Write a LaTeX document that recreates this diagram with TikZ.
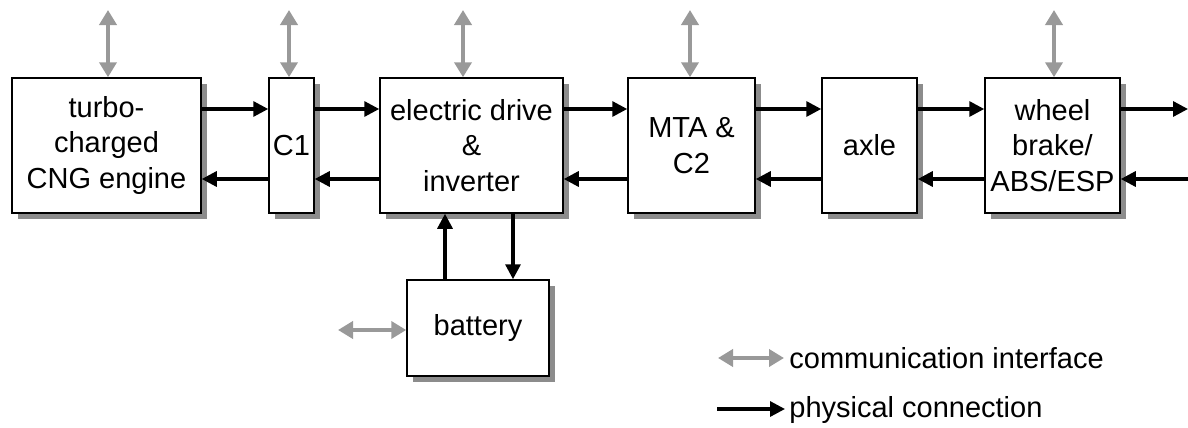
\documentclass[tikz,border=0pt]{standalone}
\usepackage{fontspec}
\setmainfont{Liberation Sans}
\usetikzlibrary{arrows.meta,shadows}
\definecolor{commgray}{HTML}{999999}
\definecolor{shadowgray}{HTML}{8C8C8C}
\begin{document}
\begin{tikzpicture}[x=0.5pt,y=-0.5pt,
  blk/.style={draw=black,line width=0.75pt,fill=white,inner sep=0pt,align=center,
    font=\fontsize{14.5}{17.8}\selectfont,
    drop shadow={shadow xshift=2.8pt,shadow yshift=-2.8pt,fill=shadowgray,opacity=1}},
  phys/.style={line width=1.6pt,-{Triangle[length=7.5pt,width=7.5pt]}},
  comm/.style={line width=2pt,draw=commgray,{Triangle[length=7.5pt,width=8.5pt,fill=commgray]}-{Triangle[length=7.5pt,width=8.5pt,fill=commgray]}},
  lab/.style={font=\fontsize{14.5}{17.5}\selectfont,anchor=west,inner sep=0pt}]
\useasboundingbox (0,0) rectangle (1188,428);

\node[blk,minimum width=94.5pt,minimum height=67.5pt] (eng) at (106.5,145.5) {turbo-\\charged\\CNG engine};
\node[blk,minimum width=22.5pt,minimum height=67.5pt] (c1) at (291.5,145.5) {C1};
\node[blk,minimum width=91.5pt,minimum height=67.5pt] (ed) at (471.5,145.5) {electric drive\\\&\\inverter};
\node[blk,minimum width=63.5pt,minimum height=67.5pt] (mta) at (691.5,145.5) {MTA \&\\C2};
\node[blk,minimum width=47.5pt,minimum height=67.5pt] (axle) at (869.5,145.5) {axle};
\node[blk,minimum width=67.5pt,minimum height=67.5pt] (wb) at (1052.5,145.5) {wheel\\brake/\\ABS/ESP};
\node[blk,minimum width=71pt,minimum height=48pt] (bat) at (478,328) {battery};

% communication interfaces
\coordinate (t1) at (108,10);
\coordinate (t2) at (289,10);
\coordinate (t3) at (463,10);
\coordinate (t4) at (690,10);
\coordinate (t5) at (1054,10);
\coordinate (tb) at (338,330);
\draw[comm] (t1) -- (t1 |- eng.north);
\draw[comm] (t2) -- (t2 |- c1.north);
\draw[comm] (t3) -- (t3 |- ed.north);
\draw[comm] (t4) -- (t4 |- mta.north);
\draw[comm] (t5) -- (t5 |- wb.north);
\draw[comm] (tb) -- (tb -| bat.west);

% physical connections forward
\draw[phys] (eng.east |- 0,109) -- (c1.west |- 0,109);
\draw[phys] (c1.east |- 0,109) -- (ed.west |- 0,109);
\draw[phys] (ed.east |- 0,109) -- (mta.west |- 0,109);
\draw[phys] (mta.east |- 0,109) -- (axle.west |- 0,109);
\draw[phys] (axle.east |- 0,109) -- (wb.west |- 0,109);
\coordinate (rf) at (1188,109);
\draw[phys] (wb.east |- rf) -- (rf);
% backward
\coordinate (rb) at (1188,179);
\draw[phys] (rb) -- (wb.east |- rb);
\draw[phys] (wb.west |- 0,179) -- (axle.east |- 0,179);
\draw[phys] (axle.west |- 0,179) -- (mta.east |- 0,179);
\draw[phys] (mta.west |- 0,179) -- (ed.east |- 0,179);
\draw[phys] (ed.west |- 0,179) -- (c1.east |- 0,179);
\draw[phys] (c1.west |- 0,179) -- (eng.east |- 0,179);
% battery
\draw[phys] (bat.north -| 445,0) -- (ed.south -| 445,0);
\draw[phys] (ed.south -| 513,0) -- (bat.north -| 513,0);

% legend
\coordinate (lc1) at (718,358);
\coordinate (lc2) at (784,358);
\coordinate (lp1) at (717,409);
\coordinate (lp2) at (785,409);
\draw[comm] (lc1) -- (lc2);
\draw[phys] (lp1) -- (lp2);
\node[lab] (lct) at (789,358) {communication interface};
\node[lab] (lpt) at (789,410) {physical connection};
\end{tikzpicture}
\end{document}
